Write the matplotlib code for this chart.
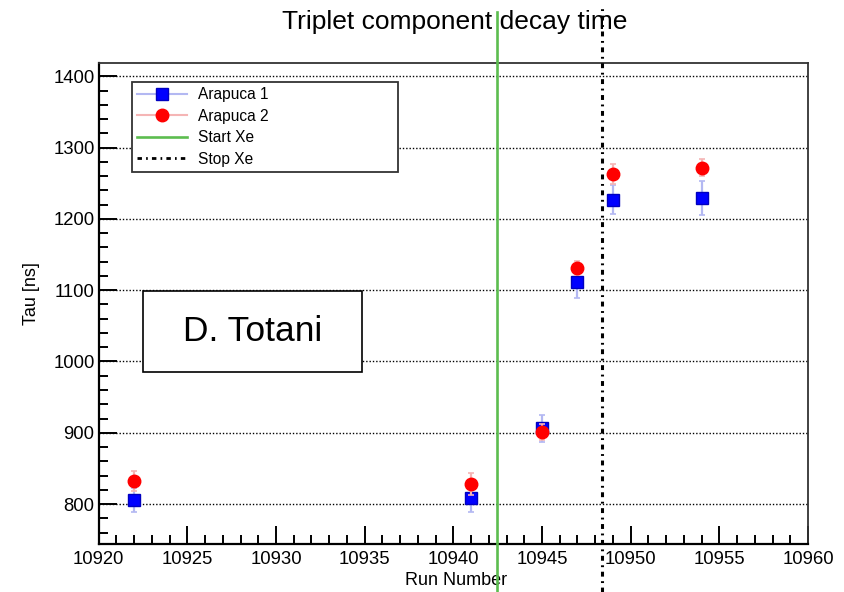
""" Triplet component decay time vs run number """
import matplotlib
matplotlib.use('Agg')
import matplotlib.pyplot as plt
from matplotlib.lines import Line2D
from matplotlib.patches import Rectangle
from matplotlib.ticker import MultipleLocator

plt.rcParams['font.family'] = ['Liberation Sans', 'DejaVu Sans']

# data
runs = [10922, 10941, 10945, 10947, 10949, 10954]
tau_arapuca1 = [806, 809, 906, 1111, 1227, 1229]
err_arapuca1 = [17, 20, 19, 22, 20, 24]
tau_arapuca2 = [832, 828, 901, 1131, 1263, 1272]
err_arapuca2 = [14, 15, 11, 10, 14, 12]

start_xe = 10942.45
stop_xe = 10948.4

labels = ['Arapuca 1', 'Arapuca 2', 'Start Xe', 'Stop Xe']

blue = '#0000ff'
red = '#ff0000'
blue_err = '#b3b8f2'
red_err = '#f5b5b5'
green = '#5cbd4f'

fig = plt.figure(figsize=(8.44, 5.92), dpi=100, facecolor='white')
# axes box in pixels: x 98.7..808, y 62.7..544 (from top)
ax = fig.add_axes([98.7 / 844, 48 / 592, 709.3 / 844, 481.3 / 592])

ax.errorbar(runs, tau_arapuca1, yerr=err_arapuca1, fmt='s', color=blue, mfc=blue, mec='#0000c0',
            ms=8.5, ecolor=blue_err, elinewidth=1.6, capsize=2, capthick=1.2, zorder=3)
ax.errorbar(runs, tau_arapuca2, yerr=err_arapuca2, fmt='o', color=red, mfc=red, mec=red,
            ms=9, ecolor=red_err, elinewidth=1.6, capsize=2, capthick=1.2, zorder=4)

# marker lines run past the frame, top to bottom of the picture
ax.axvline(start_xe, ymin=-0.1, ymax=1.105, color=green, lw=1.9, clip_on=False, zorder=5)
ax.axvline(stop_xe, ymin=-0.1, ymax=1.12, color='black', lw=2.2,
           linestyle=(0, (1.6, 1.5, 0.6, 1.5)), clip_on=False, zorder=5)

ax.set_xlim(10920, 10960)
ax.set_ylim(744, 1419)

ax.xaxis.set_major_locator(MultipleLocator(5))
ax.xaxis.set_minor_locator(MultipleLocator(1))
ax.yaxis.set_major_locator(MultipleLocator(100))
ax.yaxis.set_minor_locator(MultipleLocator(20))

ax.tick_params(axis='both', which='both', direction='in', top=False, right=False, width=1.4)
ax.tick_params(axis='both', which='major', length=13, labelsize=13.3)
ax.tick_params(axis='both', which='minor', length=6.5)
ax.tick_params(axis='y', which='major', pad=3)
ax.tick_params(axis='x', which='major', pad=5)

ax.yaxis.grid(True, which='major', color='black', linestyle=(0, (1, 1.4)), lw=1.0)
ax.set_axisbelow(True)

for side in ['left', 'bottom']:
    ax.spines[side].set_linewidth(1.6)
for side in ['top', 'right']:
    ax.spines[side].set_linewidth(1.3)
    ax.spines[side].set_color('#333333')

ax.set_xlabel('Run Number', fontsize=13)
ax.xaxis.set_label_coords(0.504, -0.059)
ax.xaxis.label.set_va('top')
ax.set_ylabel('Tau [ns]', fontsize=13)
ax.yaxis.set_label_coords(-0.083, 0.52)

fig.text(455 / 844, 1 - 22 / 592, 'Triplet component decay time', fontsize=19,
         ha='center', va='center')

handles = [
    Line2D([], [], color=blue_err, lw=1.5, marker='s', mfc=blue, mec='#0000c0', ms=8.5),
    Line2D([], [], color=red_err, lw=1.5, marker='o', mfc=red, mec=red, ms=9),
    Line2D([], [], color=green, lw=1.9),
    Line2D([], [], color='black', lw=2.0, linestyle=(0, (1.6, 1.5, 0.6, 1.5))),
]
leg = ax.legend(handles, labels, loc='upper left', bbox_to_anchor=(0.0465, 0.9605, 0.375, 0),
                mode='expand', borderaxespad=0, fontsize=11.2, handlelength=3.2,
                handletextpad=0.7, labelspacing=0.42, borderpad=0.35, numpoints=1,
                fancybox=False, framealpha=1, edgecolor='#333333')
leg.get_frame().set_linewidth(1.3)

# author box
box = Rectangle((142.7 / 844, 1 - 372.3 / 592), 219.6 / 844, 81.6 / 592,
                transform=fig.transFigure, facecolor='white', edgecolor='black', lw=1.2, zorder=6)
fig.patches.append(box)
fig.text(252.5 / 844, 1 - 331.5 / 592, 'D. Totani', fontsize=25.5, ha='center', va='center', zorder=7)

fig.savefig('out.png', dpi=100, facecolor='white')
plt.close(fig)
